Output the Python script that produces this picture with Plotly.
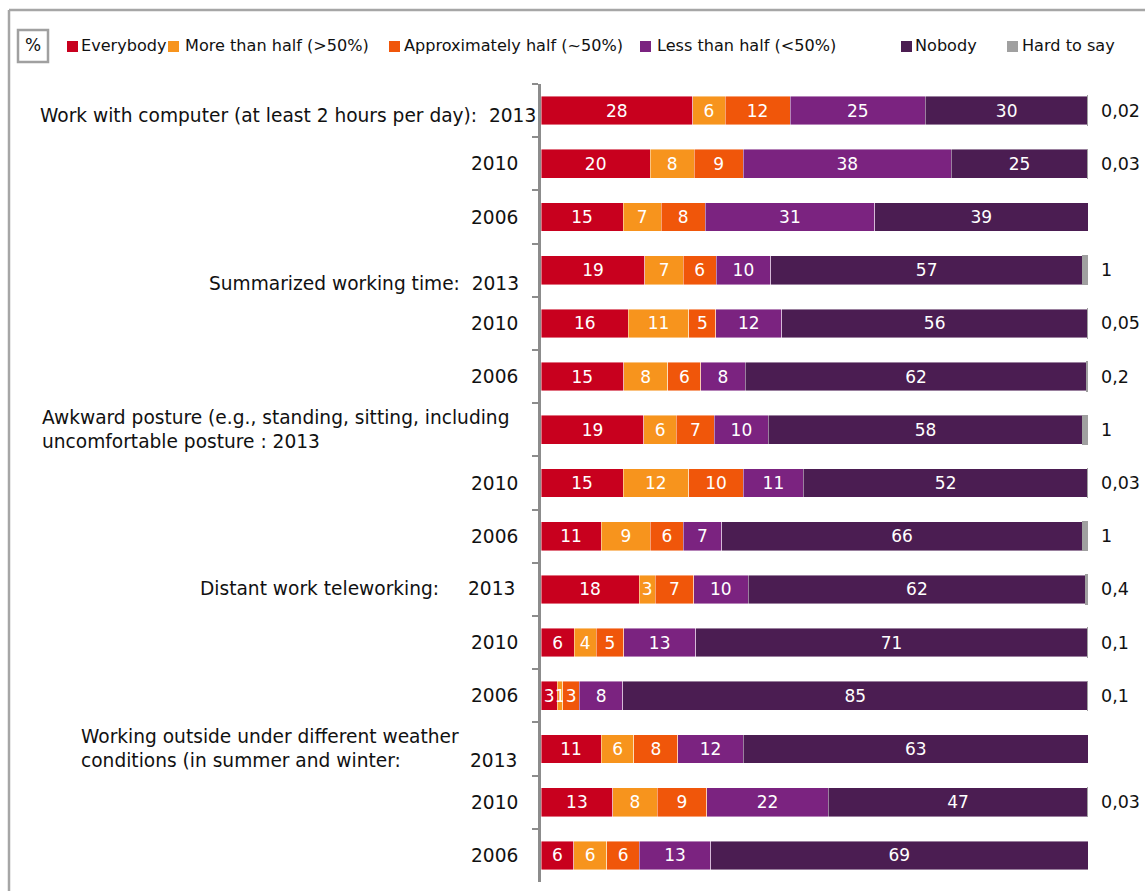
import plotly.graph_objects as go

# ---- data -----------------------------------------------------------------
groups = ["Work with computer", "Summarized working time", "Awkward posture",
          "Distant work teleworking", "Working outside"]
years = ["2013", "2010", "2006"]
categories = [f"{g} {y}" for g in groups for y in years]

series_names = ["Everybody", "More than half (>50%)", "Approximately half (~50%)",
                "Less than half (<50%)", "Nobody", "Hard to say"]

everybody      = [28, 20, 15, 19, 16, 15, 19, 15, 11, 18, 6, 3, 11, 13, 6]
more_than_half = [6, 8, 7, 7, 11, 8, 6, 12, 9, 3, 4, 1, 6, 8, 6]
approx_half    = [12, 9, 8, 6, 5, 6, 7, 10, 6, 7, 5, 3, 8, 9, 6]
less_than_half = [25, 38, 31, 10, 12, 8, 10, 11, 7, 10, 13, 8, 12, 22, 13]
nobody         = [30, 25, 39, 57, 56, 62, 58, 52, 66, 62, 71, 85, 63, 47, 69]
hard_to_say    = [0.02, 0.03, None, 1, 0.05, 0.2, 1, 0.03, 1, 0.4, 0.1, 0.1, None, 0.03, None]
hard_to_say_labels = ["0,02", "0,03", "", "1", "0,05", "0,2", "1", "0,03", "1",
                      "0,4", "0,1", "0,1", "", "0,03", ""]

group_labels = {
    0: "Work with computer (at least 2 hours per day):\u00a0 2013",
    3: "Summarized working time:\u00a0 2013",
    6: "Awkward posture (e.g., standing, sitting, including<br>uncomfortable posture : 2013",
    9: "Distant work teleworking:",
    12: "Working outside under different weather<br>conditions (in summer and winter:",
}

colors = ["#C8001E", "#F7941D", "#F0560A", "#7B2380", "#4B1D52", "#A0A0A0"]

# ---- page geometry ----------------------------------------------------------
W, H = 1145, 891
ML, MR, MT, MB = 541, 57, 84, 9
PW, PH = W - ML - MR, H - MT - MB
FONT = "DejaVu Sans"
FS = 17          # bar values
FS_LAB = 18.6    # row labels on the left
FS_LEG = 16.1    # legend strip
TXT = "#111111"
AXIS_GREY = "#8C8C8C"


def px_x(px):
    return (px - ML) / PW


def px_y(py):
    return (H - MB - py) / PH


fig = go.Figure()

values = [everybody, more_than_half, approx_half, less_than_half, nobody, hard_to_say]
for i, (name, vals, col) in enumerate(zip(series_names, values, colors)):
    is_hts = i == len(series_names) - 1
    fig.add_bar(
        y=categories, x=vals, name=name, orientation="h",
        marker=dict(color=col,
                    line=dict(color=col if is_hts else "rgba(255,255,255,0.55)",
                              width=1.5 if is_hts else 0.8)),
        text=None if is_hts else [str(v) for v in vals],
        textposition="none" if is_hts else "inside",
        insidetextanchor="middle", textangle=0,
        textfont=dict(color="white", size=FS, family=FONT),
        showlegend=False, hoverinfo="x+y+name",
    )

annotations = []

# values of "Hard to say" written to the right of each bar
for cat, lab in zip(categories, hard_to_say_labels):
    if lab:
        annotations.append(dict(x=100, y=cat, xref="x", yref="y", text=lab,
                                xanchor="left", xshift=11, showarrow=False,
                                font=dict(size=17.5, color=TXT, family=FONT)))

# row labels on the left
for idx, cat in enumerate(categories):
    if idx % 3 != 0:
        annotations.append(dict(x=px_x(520), y=cat, xref="paper", yref="y",
                                text=years[idx % 3], xanchor="right", showarrow=False,
                                font=dict(size=FS_LAB, color=TXT, family=FONT)))

label_pos = {
    0: dict(x=px_x(538), xanchor="right", yshift=-5, align="right"),
    3: dict(x=px_x(521), xanchor="right", yshift=-13, align="right"),
    6: dict(x=px_x(40), xanchor="left", yshift=0, align="left"),
    9: dict(x=px_x(441), xanchor="right", yshift=1, align="right"),
    12: dict(x=px_x(79), xanchor="left", yshift=1, align="left"),
}
for idx, txt in group_labels.items():
    p = label_pos[idx]
    annotations.append(dict(x=p["x"], y=categories[idx], xref="paper", yref="y",
                            text=txt, xanchor=p["xanchor"], yshift=p["yshift"],
                            align=p["align"], showarrow=False,
                            font=dict(size=FS_LAB, color=TXT, family=FONT)))
# stand-alone year labels for the last two groups
annotations.append(dict(x=px_x(517), y=categories[9], xref="paper", yref="y", text="2013",
                        xanchor="right", yshift=1, showarrow=False,
                        font=dict(size=FS_LAB, color=TXT, family=FONT)))
annotations.append(dict(x=px_x(519), y=categories[12], xref="paper", yref="y", text="2013",
                        xanchor="right", yshift=-11, showarrow=False,
                        font=dict(size=FS_LAB, color=TXT, family=FONT)))

# ---- legend strip ----------------------------------------------------------
shapes = []
legend_items = [  # (square left px, text left px)
    (67, 79), (168, 183), (389, 402), (640, 655), (901, 913), (1007, 1020)
]
LEG_Y = 46
for (sq, tx), name, col in zip(legend_items, series_names, colors):
    shapes.append(dict(type="rect", xref="paper", yref="paper",
                       x0=px_x(sq), x1=px_x(sq + 11), y0=px_y(LEG_Y + 6), y1=px_y(LEG_Y - 5),
                       fillcolor=col, line=dict(width=0)))
    annotations.append(dict(x=px_x(tx), y=px_y(LEG_Y), xref="paper", yref="paper",
                            text=name, xanchor="left", yanchor="middle", showarrow=False,
                            font=dict(size=FS_LEG, color=TXT, family=FONT)))

# "%" box
shapes.append(dict(type="rect", xref="paper", yref="paper",
                   x0=px_x(18), x1=px_x(48), y0=px_y(62), y1=px_y(30),
                   line=dict(color="#A0A0A0", width=2.5), fillcolor="white"))
annotations.append(dict(x=px_x(33), y=px_y(45), xref="paper", yref="paper", text="%",
                        showarrow=False, xanchor="center", yanchor="middle",
                        font=dict(size=17, color=TXT, family=FONT)))

# outer frame (top and left edges)
shapes.append(dict(type="line", xref="paper", yref="paper",
                   x0=px_x(9), x1=px_x(W + 5), y0=px_y(10), y1=px_y(10),
                   line=dict(color="#A6A6A6", width=2.5)))
shapes.append(dict(type="line", xref="paper", yref="paper",
                   x0=px_x(9), x1=px_x(9), y0=px_y(10), y1=px_y(H + 5),
                   line=dict(color="#A6A6A6", width=2.5)))

fig.update_layout(
    width=W, height=H,
    margin=dict(l=ML, r=MR, t=MT, b=MB, pad=0),
    paper_bgcolor="white", plot_bgcolor="white",
    barmode="stack", barnorm="percent", bargap=0.46,
    uniformtext=dict(minsize=FS, mode="show"),
    font=dict(family=FONT, size=FS, color=TXT),
    xaxis=dict(range=[0, 100], visible=False, fixedrange=True),
    yaxis=dict(type="category", categoryorder="array", categoryarray=categories,
               autorange="reversed", showticklabels=False, showgrid=False,
               zeroline=False, showline=True, linecolor=AXIS_GREY, linewidth=3,
               ticks="outside", tickson="boundaries", ticklen=6, tickwidth=2,
               tickcolor=AXIS_GREY),
    annotations=annotations, shapes=shapes,
    showlegend=False,
)

fig.write_html("out.html")
